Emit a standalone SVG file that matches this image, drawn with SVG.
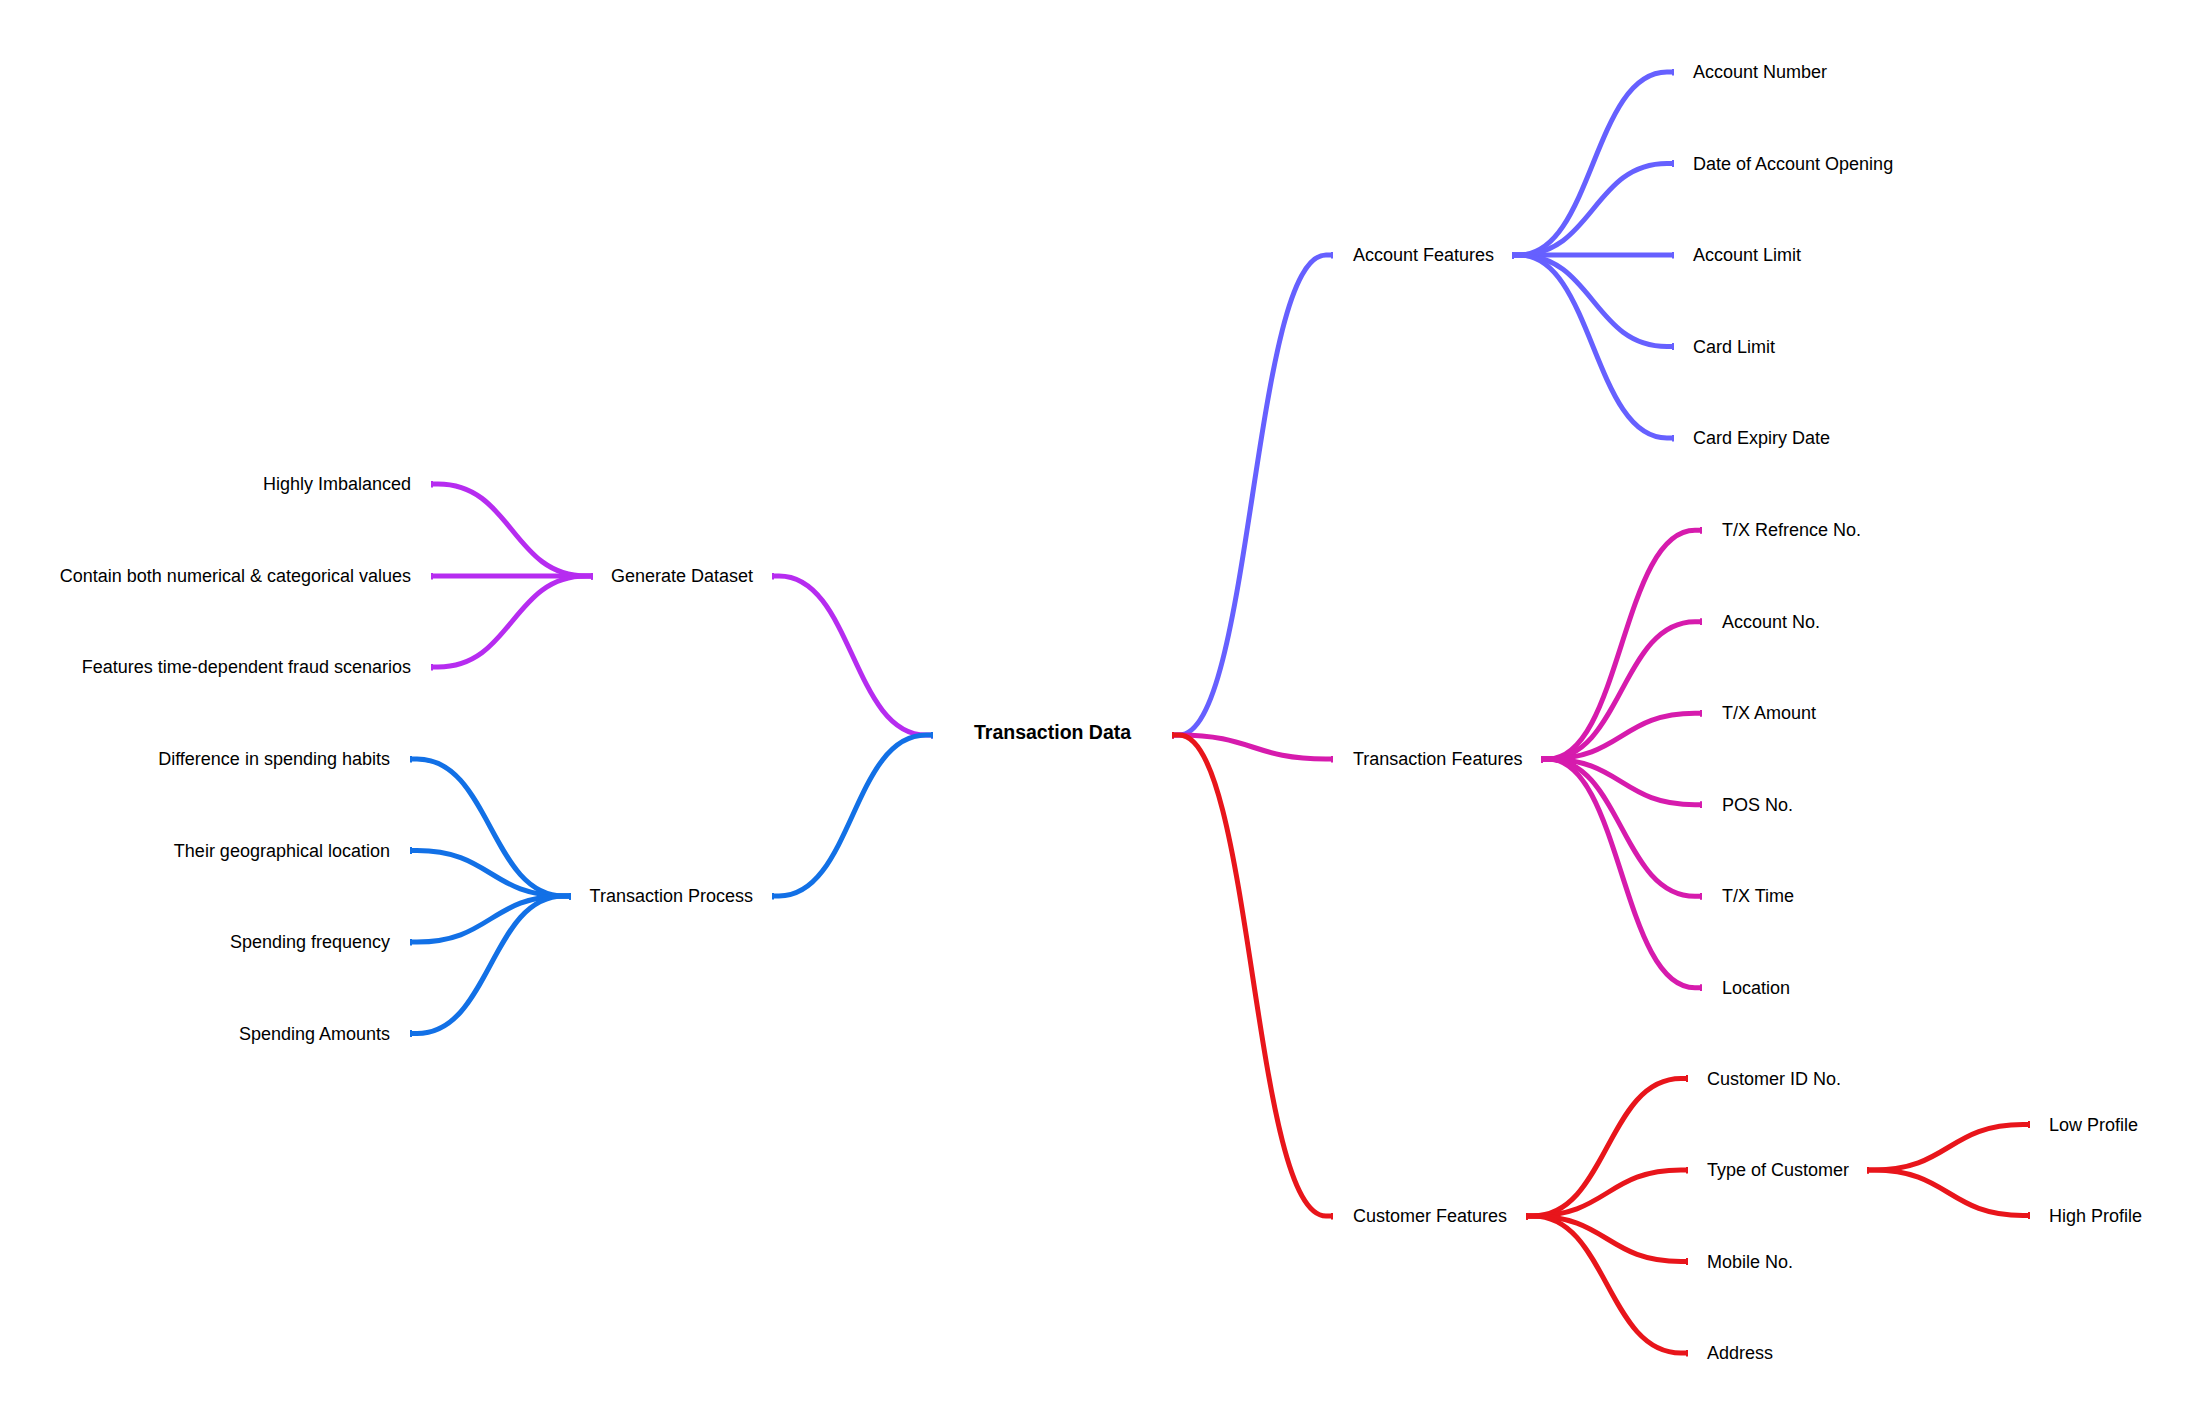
<svg xmlns="http://www.w3.org/2000/svg" width="2201" height="1424" viewBox="0 0 2201 1424">
<style>
  text { font-family: "Liberation Sans", Arial, sans-serif; font-size: 18px; fill: #000000; }
  .root { font-size: 19.5px; font-weight: bold; }
  .end { text-anchor: end; }
  path { fill: none; stroke-width: 5; stroke-linecap: butt; }
  .c-gd { stroke: #b62cf0; marker-start: url(#t-gd); marker-end: url(#t-gd); }
  .c-tp { stroke: #1270e6; marker-start: url(#t-tp); marker-end: url(#t-tp); }
  .c-af { stroke: #6660ff; marker-start: url(#t-af); marker-end: url(#t-af); }
  .c-tf { stroke: #d61bad; marker-start: url(#t-tf); marker-end: url(#t-tf); }
  .c-cf { stroke: #e8151b; marker-start: url(#t-cf); marker-end: url(#t-cf); }
</style>
<defs>
  <marker id="t-gd" markerUnits="userSpaceOnUse" markerWidth="2" markerHeight="7" refX="1" refY="3.5" orient="auto" viewBox="0 0 2 7"><rect x="0" y="0" width="2" height="7" fill="#b62cf0"/></marker>
  <marker id="t-tp" markerUnits="userSpaceOnUse" markerWidth="2" markerHeight="7" refX="1" refY="3.5" orient="auto" viewBox="0 0 2 7"><rect x="0" y="0" width="2" height="7" fill="#1270e6"/></marker>
  <marker id="t-af" markerUnits="userSpaceOnUse" markerWidth="2" markerHeight="7" refX="1" refY="3.5" orient="auto" viewBox="0 0 2 7"><rect x="0" y="0" width="2" height="7" fill="#6660ff"/></marker>
  <marker id="t-tf" markerUnits="userSpaceOnUse" markerWidth="2" markerHeight="7" refX="1" refY="3.5" orient="auto" viewBox="0 0 2 7"><rect x="0" y="0" width="2" height="7" fill="#d61bad"/></marker>
  <marker id="t-cf" markerUnits="userSpaceOnUse" markerWidth="2" markerHeight="7" refX="1" refY="3.5" orient="auto" viewBox="0 0 2 7"><rect x="0" y="0" width="2" height="7" fill="#e8151b"/></marker>
</defs>
<rect x="0" y="0" width="2201" height="1424" fill="#ffffff"/>

<g id="connectors">
  <path class="c-gd" d="M932 735 H926 C852.5 735 852.5 576 779 576 H773"/>
  <path class="c-tp" d="M932 735 H926 C852.5 735 852.5 896 779 896 H773"/>
  <path class="c-gd" d="M592 576 H586 C512 576 512 484 438 484 H432"/>
  <path class="c-gd" d="M592 576 H432"/>
  <path class="c-gd" d="M592 576 H586 C512 576 512 667 438 667 H432"/>
  <path class="c-tp" d="M570 896 H564 C490.5 896 490.5 759 417 759 H411"/>
  <path class="c-tp" d="M570 896 H564 C490.5 896 490.5 850.5 417 850.5 H411"/>
  <path class="c-tp" d="M570 896 H564 C490.5 896 490.5 942 417 942 H411"/>
  <path class="c-tp" d="M570 896 H564 C490.5 896 490.5 1033.5 417 1033.5 H411"/>
  <path class="c-af" d="M1173 735 H1179 C1252.5 735 1252.5 255 1326 255 H1332"/>
  <path class="c-tf" d="M1173 735 H1179 C1252.5 735 1252.5 759 1326 759 H1332"/>
  <path class="c-cf" d="M1173 735 H1179 C1252.5 735 1252.5 1216 1326 1216 H1332"/>
  <path class="c-af" d="M1513 255 H1519 C1593 255 1593 72 1667 72 H1673"/>
  <path class="c-af" d="M1513 255 H1519 C1593 255 1593 163.5 1667 163.5 H1673"/>
  <path class="c-af" d="M1513 255 H1673"/>
  <path class="c-af" d="M1513 255 H1519 C1593 255 1593 346.5 1667 346.5 H1673"/>
  <path class="c-af" d="M1513 255 H1519 C1593 255 1593 438 1667 438 H1673"/>
  <path class="c-tf" d="M1542 759 H1548 C1621.5 759 1621.5 530.25 1695 530.25 H1701"/>
  <path class="c-tf" d="M1542 759 H1548 C1621.5 759 1621.5 621.75 1695 621.75 H1701"/>
  <path class="c-tf" d="M1542 759 H1548 C1621.5 759 1621.5 713.25 1695 713.25 H1701"/>
  <path class="c-tf" d="M1542 759 H1548 C1621.5 759 1621.5 804.75 1695 804.75 H1701"/>
  <path class="c-tf" d="M1542 759 H1548 C1621.5 759 1621.5 896.25 1695 896.25 H1701"/>
  <path class="c-tf" d="M1542 759 H1548 C1621.5 759 1621.5 987.75 1695 987.75 H1701"/>
  <path class="c-cf" d="M1527 1216 H1533 C1607 1216 1607 1078.5 1681 1078.5 H1687"/>
  <path class="c-cf" d="M1527 1216 H1533 C1607 1216 1607 1170 1681 1170 H1687"/>
  <path class="c-cf" d="M1527 1216 H1533 C1607 1216 1607 1261.5 1681 1261.5 H1687"/>
  <path class="c-cf" d="M1527 1216 H1533 C1607 1216 1607 1353 1681 1353 H1687"/>
  <path class="c-cf" d="M1868 1170 H1874 C1948.5 1170 1948.5 1124.5 2023 1124.5 H2029"/>
  <path class="c-cf" d="M1868 1170 H1874 C1948.5 1170 1948.5 1215.5 2023 1215.5 H2029"/>
</g>

<g id="node-transaction-data"><text class="root" x="974" y="739">Transaction Data</text></g>

<g id="node-generate-dataset"><text class="end" x="753" y="582">Generate Dataset</text></g>
<g id="node-highly-imbalanced"><text class="end" x="411" y="490">Highly Imbalanced</text></g>
<g id="node-contain-both"><text class="end" x="411" y="582">Contain both numerical &amp; categorical values</text></g>
<g id="node-features-time"><text class="end" x="411" y="673">Features time-dependent fraud scenarios</text></g>

<g id="node-transaction-process"><text class="end" x="753" y="902">Transaction Process</text></g>
<g id="node-difference"><text class="end" x="390" y="765">Difference in spending habits</text></g>
<g id="node-geographical"><text class="end" x="390" y="856.5">Their geographical location</text></g>
<g id="node-frequency"><text class="end" x="390" y="948">Spending frequency</text></g>
<g id="node-amounts"><text class="end" x="390" y="1039.5">Spending Amounts</text></g>

<g id="node-account-features"><text x="1353" y="261">Account Features</text></g>
<g id="node-account-number"><text x="1693" y="78">Account Number</text></g>
<g id="node-date-opening"><text x="1693" y="169.5">Date of Account Opening</text></g>
<g id="node-account-limit"><text x="1693" y="261">Account Limit</text></g>
<g id="node-card-limit"><text x="1693" y="352.5">Card Limit</text></g>
<g id="node-card-expiry"><text x="1693" y="444">Card Expiry Date</text></g>

<g id="node-transaction-features"><text x="1353" y="765">Transaction Features</text></g>
<g id="node-tx-ref"><text x="1722" y="536.25">T/X Refrence No.</text></g>
<g id="node-account-no"><text x="1722" y="627.75">Account No.</text></g>
<g id="node-tx-amount"><text x="1722" y="719.25">T/X Amount</text></g>
<g id="node-pos-no"><text x="1722" y="810.75">POS No.</text></g>
<g id="node-tx-time"><text x="1722" y="902.25">T/X Time</text></g>
<g id="node-location"><text x="1722" y="993.75">Location</text></g>

<g id="node-customer-features"><text x="1353" y="1222">Customer Features</text></g>
<g id="node-customer-id"><text x="1707" y="1084.5">Customer ID No.</text></g>
<g id="node-type-customer"><text x="1707" y="1176">Type of Customer</text></g>
<g id="node-mobile"><text x="1707" y="1267.5">Mobile No.</text></g>
<g id="node-address"><text x="1707" y="1359">Address</text></g>

<g id="node-low-profile"><text x="2049" y="1130.5">Low Profile</text></g>
<g id="node-high-profile"><text x="2049" y="1221.5">High Profile</text></g>
</svg>
